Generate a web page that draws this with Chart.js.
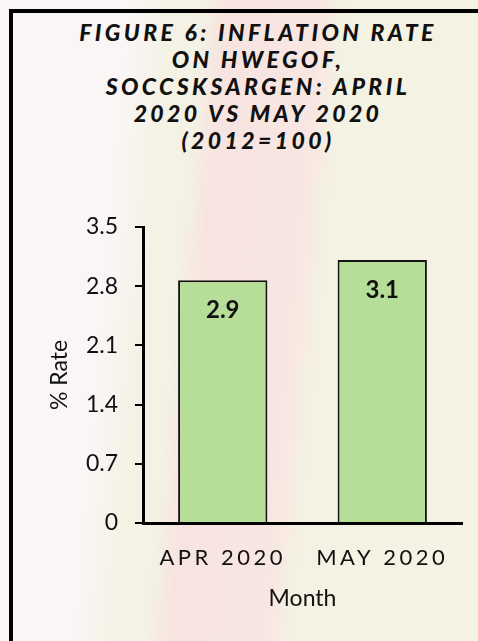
<!DOCTYPE html>
<html lang="en">
<head>
    <meta charset="UTF-8">
    <title>Inflation Rate on HWEGOF, SOCCSKSARGEN</title>
    <script src="https://cdn.jsdelivr.net/npm/chart.js"></script>
    <style>
        html, body { margin: 0; padding: 0; }
        body {
            width: 478px; height: 641px; overflow: hidden; position: relative;
            font-family: Lato, "Open Sans", sans-serif;
            background: linear-gradient(95deg, #faf6f6 0px, #faf6f6 130px, #f4f2e4 170px, #f4f2e4 200px,
                #f7e4e0 225px, #f8e6e2 320px, #f4f2e2 345px, #f4f2e2 100%);
        }
        .frame {
            position: absolute; left: 9px; top: 9px; width: 540px; height: 700px;
            border: 4px solid #000;
        }
        .title {
            position: absolute; left: 38px; top: 19px; width: 440px;
            text-align: center; color: #111;
            font: italic 900 23px Lato, sans-serif; line-height: 27px; letter-spacing: 3.4px;
        }
        #chart { position: absolute; left: 0; top: 0; }
    </style>
</head>
<body>
    <div class="frame"></div>
    <div class="title">FIGURE 6: INFLATION RATE<br>ON HWEGOF,<br>SOCCSKSARGEN: APRIL<br>2020 VS MAY 2020<br>(2012=100)</div>
    <canvas id="chart" width="478" height="641"></canvas>

    <script>
        // data
        const months = ["APR 2020", "MAY 2020"];
        const rates = [2.87, 3.11];
        const rateLabels = ["2.9", "3.1"];
        const yTicks = [0, 0.7, 1.4, 2.1, 2.8, 3.5];

        // month labels are letter spaced in the original
        const spacedLabels = {
            id: "spacedLabels",
            beforeDraw(chart) {
                const sc = chart.scales.x;
                if (sc._spaced) return;
                const orig = sc.drawLabels;
                sc.drawLabels = function (area) {
                    this.ctx.save();
                    this.ctx.letterSpacing = "3.5px";
                    orig.call(this, area);
                    this.ctx.restore();
                };
                sc._spaced = true;
            }
        };

        // value labels inside the top of each bar
        const barValues = {
            id: "barValues",
            afterDatasetsDraw(chart) {
                const ctx = chart.ctx;
                ctx.save();
                ctx.font = "bold 24px Lato";
                ctx.fillStyle = "#111";
                ctx.textAlign = "center";
                ctx.textBaseline = "middle";
                chart.getDatasetMeta(0).data.forEach((bar, i) => {
                    ctx.fillText(rateLabels[i], bar.x, bar.y + 30);
                });
                ctx.restore();
            }
        };

        new Chart(document.getElementById("chart"), {
            type: "bar",
            data: {
                labels: months,
                datasets: [{
                    data: rates,
                    backgroundColor: "#b6de98",
                    borderColor: "#141414",
                    borderWidth: 2,
                    categoryPercentage: 1,
                    barPercentage: 0.56
                }]
            },
            options: {
                responsive: false,
                animation: false,
                devicePixelRatio: 1,
                layout: { padding: { top: 227, right: 16, left: 0, bottom: 0 } },
                plugins: {
                    legend: { display: false },
                    tooltip: { enabled: false }
                },
                scales: {
                    x: {
                        grid: { display: false, drawTicks: false },
                        border: { display: true, color: "#000", width: 3 },
                        ticks: { color: "#111", font: { family: "Lato", size: 22, lineHeight: 1.2 }, padding: 22 },
                        title: {
                            display: true, text: "Month", color: "#111",
                            font: { family: "Lato", size: 23, lineHeight: 1.2 },
                            padding: { top: 0, bottom: 29 }
                        },
                        afterFit(s) { s.height = 118; }
                    },
                    y: {
                        min: 0,
                        max: 3.5,
                        afterBuildTicks(s) { s.ticks = yTicks.map(v => ({ value: v })); },
                        grid: { drawOnChartArea: false, drawTicks: true, tickLength: 8, color: "#000", lineWidth: 2 },
                        border: { display: true, color: "#000", width: 3 },
                        ticks: {
                            color: "#111", padding: 17,
                            font: { family: "Lato", size: 23, lineHeight: 1.2 },
                            callback: v => String(Number(v.toFixed(1)))
                        },
                        title: {
                            display: true, text: "% Rate", color: "#111",
                            font: { family: "Lato", size: 23, lineHeight: 1.2 },
                            padding: { top: 46, bottom: 0 }
                        },
                        afterFit(s) { s.width = 143; }
                    }
                }
            },
            plugins: [spacedLabels, barValues]
        });
    </script>
</body>
</html>
